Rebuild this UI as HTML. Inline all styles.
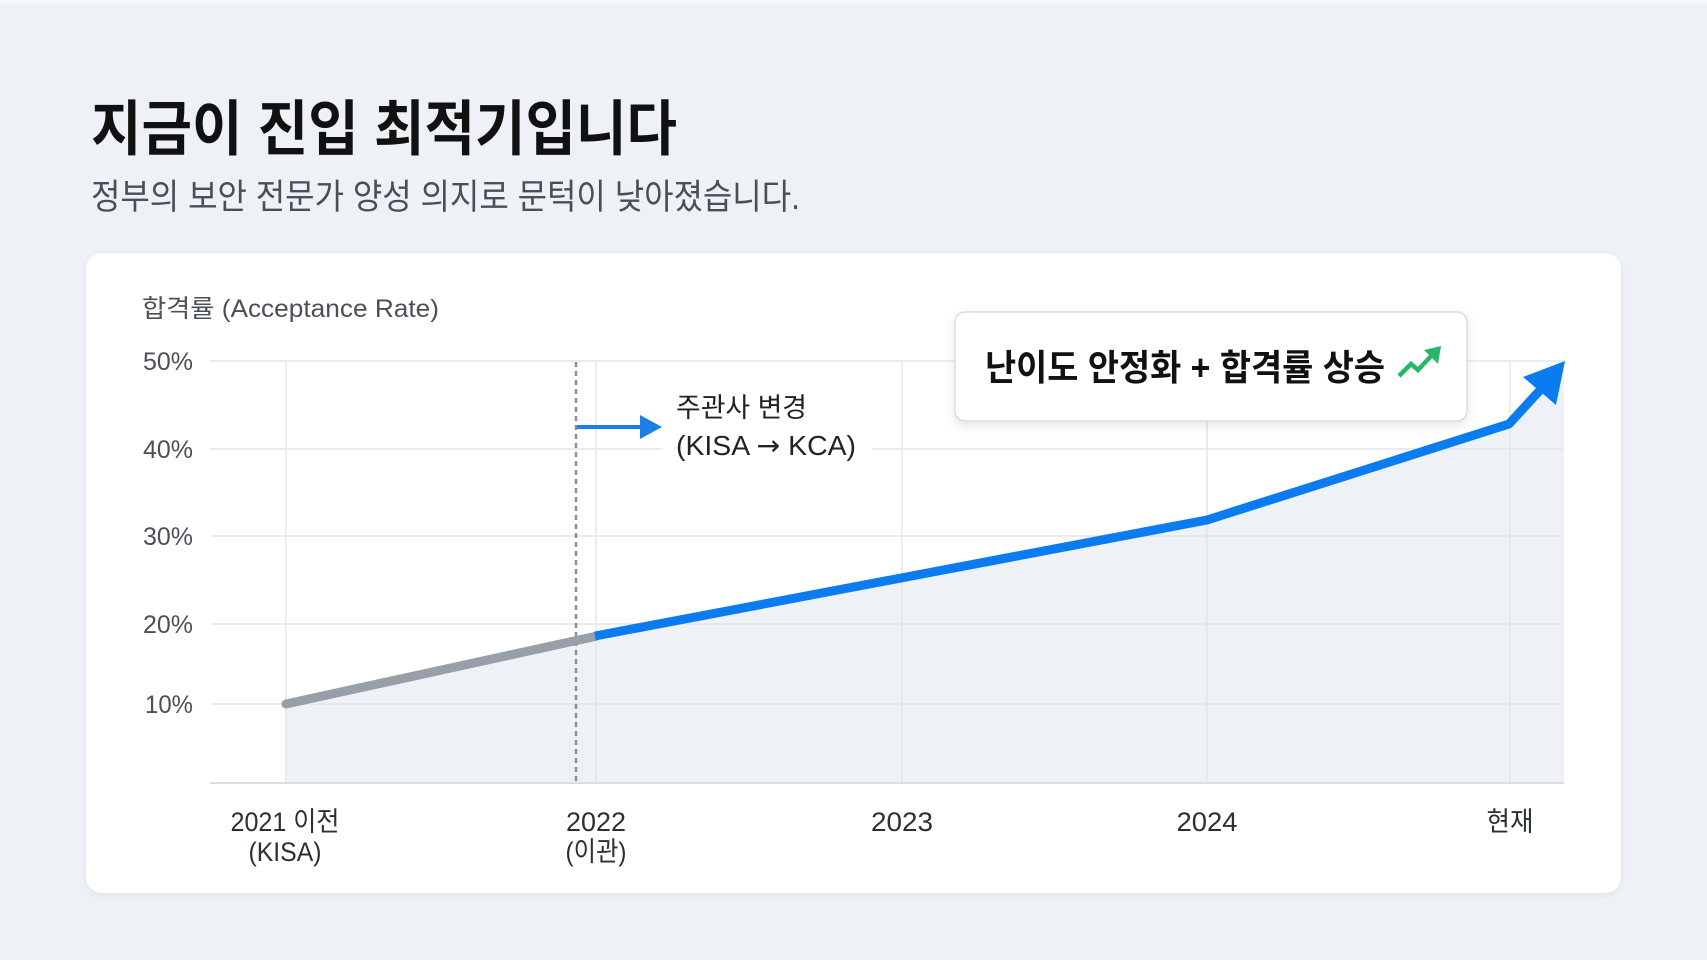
<!DOCTYPE html>
<html><head><meta charset="utf-8">
<style>
html,body{margin:0;padding:0;background:#eef2f6;}
svg{display:block;}
text{font-family:"Liberation Sans","Noto Sans CJK KR",sans-serif;}
</style></head>
<body>
<svg width="1707" height="960" viewBox="0 0 1707 960" xmlns="http://www.w3.org/2000/svg">
<defs>
<filter id="cs" x="-5%" y="-5%" width="110%" height="115%">
<feDropShadow dx="0" dy="2" stdDeviation="3" flood-color="#000" flood-opacity="0.07"/>
</filter>
<filter id="bs" x="-10%" y="-20%" width="120%" height="150%">
<feDropShadow dx="0" dy="4" stdDeviation="5" flood-color="#000" flood-opacity="0.10"/>
</filter>
</defs>
<rect x="0" y="0" width="1707" height="960" fill="#eef2f6"/>
<rect x="0" y="0" width="1707" height="4" fill="#f6f8fa"/>

<text x="91" y="150" font-size="60" font-weight="bold" fill="#111" textLength="586" lengthAdjust="spacingAndGlyphs">지금이 진입 최적기입니다</text>
<text x="91" y="209" font-size="35" fill="#4a4f57" textLength="709" lengthAdjust="spacingAndGlyphs">정부의 보안 전문가 양성 의지로 문턱이 낮아졌습니다.</text>

<rect x="86" y="253" width="1535" height="640" rx="16" fill="#fff" filter="url(#cs)"/>

<text x="142" y="317" font-size="25" fill="#4b5058" textLength="297" lengthAdjust="spacingAndGlyphs">합격률 (Acceptance Rate)</text>

<!-- area fill -->
<polygon points="286,783 286,704 595,636 901,578 1207,520 1509,424 1564,362 1564,783" fill="#eef1f6"/>

<!-- grid -->
<g stroke="#e3e6ea" stroke-width="1.5">
<line x1="210" y1="361" x2="1564" y2="361"/>
<line x1="210" y1="449" x2="1564" y2="449"/>
<line x1="210" y1="536" x2="1564" y2="536"/>
<line x1="210" y1="624" x2="1564" y2="624"/>
<line x1="210" y1="704" x2="1564" y2="704"/>
<line x1="286" y1="361" x2="286" y2="783"/>
<line x1="596" y1="361" x2="596" y2="783"/>
<line x1="902" y1="361" x2="902" y2="783"/>
<line x1="1207" y1="361" x2="1207" y2="783"/>
<line x1="1510" y1="361" x2="1510" y2="783"/>
</g>
<line x1="210" y1="783" x2="1564" y2="783" stroke="#dadde2" stroke-width="2"/>

<!-- dashed -->
<line x1="576" y1="362" x2="576" y2="782" stroke="#8a8f96" stroke-width="2.5" stroke-dasharray="5,4"/>

<!-- y labels -->
<g font-size="25" fill="#4b5058" text-anchor="end">
<text x="193" y="370" textLength="50" lengthAdjust="spacingAndGlyphs">50%</text>
<text x="193" y="458" textLength="50" lengthAdjust="spacingAndGlyphs">40%</text>
<text x="193" y="545" textLength="50" lengthAdjust="spacingAndGlyphs">30%</text>
<text x="193" y="633" textLength="50" lengthAdjust="spacingAndGlyphs">20%</text>
<text x="193" y="713" textLength="48" lengthAdjust="spacingAndGlyphs">10%</text>
</g>

<!-- x labels -->
<g font-size="27" fill="#2b2f36" text-anchor="middle">
<text x="285" y="831" textLength="109" lengthAdjust="spacingAndGlyphs">2021 이전</text>
<text x="285" y="861" textLength="73" lengthAdjust="spacingAndGlyphs">(KISA)</text>
<text x="596" y="831" textLength="60" lengthAdjust="spacingAndGlyphs">2022</text>
<text x="596" y="861" textLength="61" lengthAdjust="spacingAndGlyphs">(이관)</text>
<text x="902" y="831" textLength="62" lengthAdjust="spacingAndGlyphs">2023</text>
<text x="1207" y="831" textLength="61" lengthAdjust="spacingAndGlyphs">2024</text>
<text x="1510" y="831" textLength="47" lengthAdjust="spacingAndGlyphs">현재</text>
</g>

<!-- annotation -->
<rect x="663" y="390" width="209" height="76" fill="#fff"/>
<line x1="577" y1="427" x2="643" y2="427" stroke="#1a7fe8" stroke-width="4"/>
<polygon points="640,415 662,427 640,439" fill="#1a7fe8"/>
<text x="676" y="417" font-size="27" fill="#222" textLength="131" lengthAdjust="spacingAndGlyphs">주관사 변경</text>
<text x="676" y="455" font-size="28" fill="#222" textLength="180" lengthAdjust="spacingAndGlyphs">(KISA <tspan font-family="DejaVu Sans, sans-serif">→</tspan> KCA)</text>

<!-- series -->
<polyline points="286,704 597,636" fill="none" stroke="#979fa8" stroke-width="9" stroke-linecap="round"/>
<polyline points="595,636 901,578 1207,520 1509,424 1542,388" fill="none" stroke="#0b7cf0" stroke-width="9" stroke-linejoin="round"/>
<polygon points="1565,361 1523,377 1556,405" fill="#0b7cf0"/>

<!-- callout -->
<rect x="955" y="312" width="512" height="109" rx="10" fill="#fff" stroke="#d9dde2" stroke-width="1.5" filter="url(#bs)"/>
<text x="985" y="380" font-size="36" font-weight="bold" fill="#111" textLength="400" lengthAdjust="spacingAndGlyphs">난이도 안정화 + 합격률 상승</text>
<polyline points="1399,376 1411,364 1418,370 1432,355" fill="none" stroke="#2bb56a" stroke-width="4.5" stroke-linejoin="miter"/>
<polygon points="1441,346 1424,350 1438,364" fill="#2bb56a"/>
</svg>
</body></html>
